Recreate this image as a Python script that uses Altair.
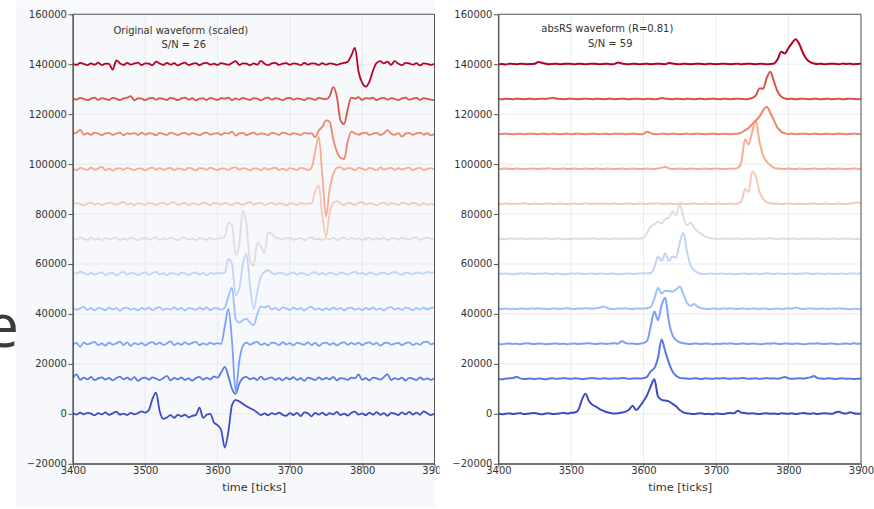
import altair as alt
import pandas as pd

# Shared sample grid (ticks) and axis tick positions
TIME = list(range(3400, 3901, 5))
X_TICKS = [3400, 3500, 3600, 3700, 3800, 3900]
Y_TICKS = list(range(-20000, 160001, 20000))
SPACING = 14000  # vertical offset between channels

# coolwarm, bottom channel (blue) to top channel (red)
COLORS = ["#3b4cc0", "#5977e3", "#7b9ff9", "#9fbfff", "#c0d4f5", "#dddddd",
          "#f2cab5", "#f7ac8e", "#ee8468", "#d75344", "#b40426"]

# Original waveforms: deviation from each channel baseline, in thousands (5-tick steps)
ORIG_0 = [
    0.2, -0.3, 0.5, -0.2, 0.4, 0.1, -0.6, 0.3, -0.2, 0.6,
    -0.4, 0.2, 0.9, -0.3, 0.1, -0.5, 0.4, -0.2, 0.3, 1.0,
    0.5, 1.5, 6.0, 8.5, 1.0, -2.0, -1.5, -0.5, -1.6, -0.4,
    -1.0, -0.3, -1.4, -0.8, -0.5, 2.5, -1.6, -0.4, 0.0, -3.5,
    -4.5, -6.5, -13.5, -7.0, 3.5, 5.5, 5.0, 4.0, 3.0, 2.2,
    1.5, 0.5, -0.5, 0.2, -0.6, 0.3, -0.2, 0.5, -0.4, -0.8,
    0.3, -0.5, 0.4, -0.9, 0.6, 0.2, -1.0, 0.4, -0.3, 0.5,
    -0.6, 0.3, -0.2, 0.8, -0.5, 0.1, -0.7, 0.4, 0.9, -0.3,
    0.2, -0.6, 0.5, -0.3, 0.7, -0.4, 0.3, -0.8, 0.4, 0.1,
    -0.5, 0.6, -0.2, 0.8, -0.3, 0.5, -0.4, 1.0, 0.2, -0.5,
    0.1]
ORIG_1 = [
    0.3, 1.8, -0.4, 0.5, -0.2, 0.8, -0.5, 0.2, 0.6, -0.3,
    0.4, -0.6, 0.3, 0.9, -0.2, 0.5, -0.4, 0.7, -0.8, 0.2,
    0.5, -0.3, 0.6, 0.1, -0.5, 0.3, 1.2, -0.6, 0.4, -0.2,
    0.6, -0.4, 0.2, -0.7, 0.3, 0.8, -0.3, 0.4, -0.2, 1.0,
    0.5, 2.5, 4.8, 1.0, -4.0, -6.0, -2.0, 0.3, 0.8, -0.2,
    0.4, -0.5, 0.9, -0.3, 0.2, 0.6, -0.4, 0.3, -0.6, 0.5,
    -0.2, 0.7, -0.4, 0.3, -0.8, 0.5, 0.1, -0.5, 0.6, -0.3,
    0.4, -0.2, 0.8, -0.6, 0.3, 0.1, -0.4, 0.5, 0.2, 1.8,
    -0.4, 0.3, -0.6, 0.5, 0.2, -0.3, 0.7, 1.9, -0.5, 0.3,
    -0.2, 0.5, -0.7, 0.4, 0.1, -0.5, 0.6, -0.3, 0.2, -0.4,
    0.3]
ORIG_2 = [
    -0.3, 0.4, -1.2, 0.6, -0.2, 0.3, 0.8, -0.5, 0.2, -0.7,
    0.5, -0.3, 0.2, 0.9, -0.4, 0.6, -0.8, 0.3, -0.2, 0.4,
    -0.6, 0.3, 0.7, -0.2, 0.5, -0.4, 0.2, 1.0, -0.5, 0.3,
    -0.3, 0.6, -0.2, 0.4, 0.8, -0.5, 0.2, -0.3, 0.5, -0.1,
    0.3, 0.0, 7.0, 14.0, 1.0, -19.0, -7.0, -0.8, 0.5, -0.3,
    0.4, 0.8, -0.4, 0.2, -0.6, 0.5, 0.3, -0.5, 0.7, -0.2,
    0.3, -0.6, 0.5, 0.1, -0.3, 0.6, -0.5, 0.4, -0.8, 0.2,
    0.5, -0.3, 0.3, -0.6, 0.2, 0.7, -0.4, 0.4, -0.2, 0.5,
    -0.5, 0.3, 0.6, -0.2, 0.4, -0.7, 0.2, 0.5, -0.3, 0.1,
    0.4, -0.5, 0.3, 0.6, -0.4, 0.2, -0.3, 0.7, 0.9, -0.2,
    0.5]
ORIG_3 = [
    0.5, -0.3, 0.2, 0.8, -0.4, 0.3, -0.6, 0.4, 0.1, -0.5,
    0.6, -0.2, 0.4, -0.7, 0.3, 0.5, -0.3, 0.2, -0.6, 0.4,
    -0.2, 0.5, -0.5, 0.3, 0.7, -0.4, 0.2, -0.3, 0.6, -0.2,
    0.4, -0.6, 0.3, 0.1, -0.4, 0.5, -0.2, 0.6, -0.5, 0.3,
    0.2, -0.3, 0.5, 5.0, 8.5, -4.0, -5.5, -4.5, -4.0, -5.5,
    -6.5, -2.0, 1.0, 0.5, 1.2, -0.3, 0.4, -0.5, 0.6, 0.2,
    -0.4, 0.5, -0.2, 0.3, -0.6, 0.4, 0.8, -0.3, 0.2, -0.5,
    0.3, -0.4, 0.6, -0.2, 0.4, -0.6, 0.3, 0.5, -0.3, 0.2,
    -0.5, 0.4, -0.2, 0.6, -0.3, 0.2, -0.6, 0.4, 0.7, -0.2,
    0.3, -0.4, 0.5, 0.2, -0.5, 0.4, -0.3, 0.6, -0.2, 0.4,
    0.6]
ORIG_4 = [
    0.6, 0.2, 0.9, 0.4, -0.3, 0.5, -0.2, 0.3, 0.7, -0.4,
    0.2, 0.5, -0.6, 0.3, 0.8, -0.2, 0.4, 0.2, -0.5, 0.3,
    0.6, -0.3, 0.4, 0.9, -0.2, 0.3, -0.5, 0.4, 0.2, -0.3,
    0.5, 0.2, -0.4, 0.3, 0.6, -0.2, 0.4, -0.5, 0.3, 0.1,
    0.4, 0.2, 0.5, 6.0, 4.0, -8.5, -6.0, 4.0, 8.0, -5.0,
    -14.0, -7.0, -1.0, 0.8, 1.5, 0.4, -0.2, 0.5, 0.3, -0.4,
    0.2, 0.6, -0.3, 0.4, 0.1, -0.5, 0.3, 0.7, -0.2, 0.4,
    -0.3, 0.5, 0.2, -0.4, 0.6, 0.3, -0.2, 0.5, 0.9, 0.1,
    0.4, -0.3, 0.6, 0.2, -0.4, 0.3, 0.5, -0.2, 0.4, 0.8,
    0.2, -0.3, 0.5, 0.3, -0.2, 0.6, 0.4, 0.1, 0.9, 0.5,
    0.7]
ORIG_5 = [
    0.3, -0.2, 0.5, 0.1, -0.4, 0.6, -0.3, 0.2, -0.5, 0.4,
    -0.2, 0.3, 0.6, -0.4, 0.2, -0.3, 0.5, 0.1, -0.6, 0.3,
    0.4, -0.3, 0.2, 0.7, -0.4, 0.3, -0.2, 0.5, 0.1, -0.5,
    0.3, 0.6, -0.3, 0.2, -0.5, 0.4, 0.1, -0.3, 0.5, -0.2,
    0.2, 0.4, 1.0, 6.5, 5.5, -6.5, -2.0, 11.5, 6.0, -9.0,
    -10.5, -1.5, -3.0, -5.5, 2.8, 2.0, 0.6, 0.2, -0.3, 0.4,
    0.5, -0.3, 0.2, 0.4, -0.5, 0.3, 0.6, -0.2, 0.1, -0.4,
    0.3, -0.2, 0.5, -0.4, 0.2, 0.6, -0.3, 0.4, -0.1, 0.3,
    -0.4, 0.2, 0.5, -0.3, 0.3, -0.2, 0.6, -0.4, 0.2, 0.4,
    -0.3, 0.5, 0.1, -0.2, 0.4, 0.7, -0.3, 0.2, 0.5, 0.1,
    0.3]
ORIG_6 = [
    -0.2, 0.4, 0.1, -0.5, 0.3, 0.6, -0.2, 0.3, -0.4, 0.2,
    0.5, 0.2, -0.3, 0.4, 0.9, -0.2, 0.3, -0.5, 0.4, 0.1,
    -0.3, 0.5, 0.2, -0.4, 0.3, 0.6, -0.2, 0.4, 0.8, -0.3,
    0.2, 0.5, -0.4, 0.3, 0.1, -0.3, 0.6, 0.2, -0.5, 0.4,
    0.3, -0.2, 0.5, 0.1, -0.4, 0.6, 0.2, -0.3, 0.4, 0.8,
    -0.2, 0.3, 0.5, -0.4, 0.2, 0.6, -0.3, 0.4, 0.1, -0.5,
    0.3, 0.2, -0.4, 0.5, 0.1, 0.3, 0.2, 5.0, 7.5, -5.0,
    -13.0, -3.5, 0.5, 1.2, 0.3, -0.4, 0.6, 0.2, -0.3, 0.5,
    0.8, -0.2, 0.4, 0.1, -0.5, 0.3, 0.6, -0.3, 0.4, 0.2,
    -0.4, 0.5, 0.3, -0.2, 0.6, 0.1, -0.5, 0.4, -0.3, 0.2,
    -0.5]
ORIG_7 = [
    0.2, -0.4, 0.5, 0.1, -0.3, 0.6, -0.2, 0.3, 0.9, -0.4,
    0.3, -0.6, 0.2, 0.4, -0.3, 0.5, 0.1, -0.4, 0.3, 0.2,
    -0.5, 0.3, 0.6, -0.2, 0.4, -0.3, 0.2, 0.5, -0.4, 0.3,
    0.1, -0.3, 0.5, 0.2, -0.5, 0.4, 0.3, -0.2, 0.6, 0.1,
    -0.4, 0.3, 0.2, -0.3, 0.5, 0.7, -0.2, 0.4, 0.1, -0.5,
    0.3, 0.2, -0.4, 0.5, -0.2, 0.3, 0.6, -0.3, 0.2, -0.4,
    0.4, 0.1, -0.3, 0.5, 0.2, -0.4, 0.5, 7.0, 13.0, -3.0,
    -19.0, -8.0, -2.0, 0.5, 0.8, -0.2, 0.4, 0.3, -0.5, 0.6,
    0.2, -0.3, 0.5, 0.1, -0.4, 0.7, -0.2, 0.3, 0.5, -0.3,
    0.4, -0.2, 0.3, 0.6, -0.4, 0.2, 0.5, -0.3, 0.1, 0.4,
    -0.2]
ORIG_8 = [
    0.3, 0.5, 1.8, -0.2, 0.4, -0.3, 0.6, 0.2, -0.4, 0.3,
    0.5, -0.3, 0.2, 0.6, -0.5, 0.3, 0.1, 0.4, -0.3, 0.6,
    -0.2, 0.4, 0.2, -0.4, 0.5, 0.1, -0.3, 0.6, 0.2, -0.4,
    0.3, 0.5, -0.2, 0.4, 0.1, -0.5, 0.3, 0.6, -0.2, 0.2,
    0.4, -0.3, 0.5, 0.2, 1.0, -0.6, 0.3, 0.5, -0.4, 0.2,
    0.6, -0.2, 0.3, 0.1, -0.4, 0.5, 0.2, -0.3, 0.6, 0.3,
    -0.2, 0.4, 0.1, -0.3, 0.5, 0.2, 0.3, -1.2, 1.5, 3.0,
    5.5, 5.0, -2.0, -7.0, -9.5, -10.0, -3.0, 1.0, 0.3, -0.2,
    0.4, 0.6, -0.3, 0.2, 0.5, -0.4, 0.3, 1.6, 0.2, -0.3,
    0.4, -1.0, 0.2, 0.5, -0.3, 0.3, 0.6, -0.2, 0.4, -0.5,
    0.2]
ORIG_9 = [
    0.3, -0.2, 0.5, 0.1, -0.4, 0.2, 0.6, -0.3, 0.4, 0.1,
    -0.3, 0.5, 0.2, -0.4, 0.3, 0.6, 1.2, -0.5, 0.3, 0.2,
    -0.4, 0.3, 0.5, -0.2, 0.4, 0.1, -0.3, 0.5, 0.2, -0.4,
    0.3, 0.6, -0.2, 0.4, -0.5, 0.2, 0.3, -0.3, 0.5, 0.1,
    -0.3, 0.4, 0.2, 0.6, -0.4, 0.3, -0.2, 0.5, 0.1, -0.3,
    0.4, 0.2, -0.5, 0.3, 0.6, -0.2, 0.4, 0.1, -0.4, 0.3,
    0.5, -0.2, 0.3, 0.1, -0.4, 0.4, 0.2, -0.3, 0.5, 0.2,
    0.0, 1.2, 4.8, 1.0, -8.5, -10.0, -4.0, 0.6, 0.2, 0.8,
    -0.3, 0.4, 0.2, 0.6, -0.4, 0.3, 0.5, -0.2, 0.4, 0.1,
    -0.4, 0.3, 0.6, -0.2, 0.2, 0.5, -0.3, 0.4, 0.1, -0.2,
    -0.3]
ORIG_10 = [
    0.2, -0.3, 0.5, 0.1, -0.4, 0.3, -0.2, 0.6, -0.3, 0.2,
    0.1, -2.2, 1.5, 0.4, -0.3, 0.5, -0.2, 0.3, 0.6, -0.4,
    0.3, 0.2, -0.4, 1.0, 0.3, -0.3, 0.5, -0.2, 0.4, -0.5,
    0.2, 0.6, -0.3, 0.1, 0.4, -0.4, 0.3, 0.5, -0.2, 0.2,
    -0.3, 0.4, 0.1, -0.2, 0.5, 1.2, -0.3, 0.3, 0.2, -0.4,
    0.3, -0.2, 1.3, 0.2, -0.4, 0.3, 0.5, -0.3, 0.2, 0.4,
    -0.2, 0.3, 0.1, -0.4, 0.5, -0.2, 0.3, 0.2, -0.3, 0.4,
    -0.2, 0.3, 0.1, -0.3, 0.2, 0.5, 1.0, 3.5, 6.5, -3.0,
    -7.5, -9.0, -7.0, -2.5, 0.5, 1.2, 0.3, 1.0, -0.3, 1.2,
    0.2, -0.4, 0.5, 0.3, -0.2, 0.4, -0.5, 0.3, 0.1, -0.3,
    0.2]

# absRS waveforms: deviation from each channel baseline, in thousands (5-tick steps)
ABSRS_0 = [
    0.1, -0.2, 0.0, 0.2, -0.1, 0.1, 0.3, -0.1, 0.0, 0.2,
    0.3, 0.0, -0.2, 0.1, 0.2, -0.1, 0.0, 0.2, 0.4, 0.1,
    0.4, 0.5, 1.5, 5.5, 8.0, 5.0, 3.5, 2.8, 1.8, 1.2,
    0.6, 0.3, 0.1, 0.2, 0.5, 0.9, 1.6, 3.2, 1.5, 3.0,
    5.0, 7.5, 11.0, 13.8, 7.0, 5.6, 5.3, 5.0, 4.0, 3.0,
    1.5, 0.6, 0.2, 0.0, -0.1, 0.1, 0.2, -0.1, 0.0, -0.2,
    0.1, 0.0, -0.1, 0.2, 0.3, 0.2, 1.2, 0.5, 0.3, 0.1,
    0.2, 0.0, -0.1, 0.1, 0.2, 0.0, 0.1, -0.1, 0.2, 0.1,
    0.0, 0.2, -0.1, 0.1, 0.3, 0.1, 0.0, 0.2, -0.1, 0.1,
    0.2, 0.1, 0.0, 0.6, 0.8, 0.2, 0.1, 0.6, 0.2, 0.0,
    0.1]
ABSRS_1 = [
    0.0, -0.2, 0.1, 0.2, 0.3, 0.8, 0.2, -0.1, 0.0, 0.1,
    -0.1, 0.1, 0.0, -0.2, 0.1, 0.2, 0.0, 0.1, 0.3, 0.1,
    0.0, 0.2, 0.1, -0.1, 0.0, 0.2, 0.3, 0.1, 0.0, 0.2,
    0.1, 0.0, 0.2, 0.1, 0.3, 0.2, 0.0, 0.1, 0.2, 0.1,
    0.3, 0.8, 3.0, 4.3, 8.5, 15.8, 11.0, 6.5, 3.0, 1.2,
    0.4, 0.2, 0.1, 0.0, 0.2, 0.1, -0.1, 0.2, 0.1, 0.0,
    0.2, 0.1, 0.3, 0.1, 0.0, 0.2, 0.1, 0.3, 0.2, 0.0,
    0.1, 0.2, 0.0, 0.1, 0.3, 0.1, 0.2, 0.0, 0.4, 0.7,
    0.2, 0.0, 0.1, 0.2, 0.1, 0.3, 0.6, 1.1, 0.3, 0.1,
    0.0, 0.2, 0.1, -0.1, 0.1, 0.2, 0.0, 0.1, -0.1, 0.0,
    0.1]
ABSRS_2 = [
    0.0, -0.1, 0.1, 0.2, 0.0, 0.1, -0.1, 0.2, 0.3, 0.1,
    0.0, 0.2, 0.1, -0.1, 0.0, 0.1, 0.2, 0.0, 0.1, -0.1,
    0.1, 0.2, 0.0, 0.1, 0.2, 0.3, 0.1, 0.0, 0.2, 0.1,
    0.0, 0.2, 0.3, 0.1, 1.2, 0.4, 0.1, 0.2, 0.0, 0.1,
    0.3, 1.2, 7.0, 13.0, 9.5, 15.5, 18.5, 9.0, 3.5, 1.5,
    0.6, 0.3, 0.1, 0.0, 0.2, 0.1, 0.0, 0.2, 0.1, -0.1,
    0.1, 0.0, 0.2, 0.1, 0.3, 0.1, 0.0, 0.2, 0.1, 0.0,
    0.2, 0.1, -0.1, 0.0, 0.2, 0.1, 0.3, 0.1, 0.0, 0.2,
    0.1, 0.0, 0.2, 0.1, -0.1, 0.0, 0.2, 0.1, 0.3, 0.1,
    0.0, 0.1, 0.2, 0.0, -0.1, 0.1, 0.2, 0.0, 0.3, 0.1,
    0.2]
ABSRS_3 = [
    0.1, 0.0, 0.2, -0.1, 0.1, 0.0, 0.2, 0.1, 0.0, 0.2,
    0.1, 0.3, 0.0, 0.1, -0.1, 0.2, 0.1, 0.0, 0.2, 0.3,
    0.1, 0.0, 0.2, 0.1, 0.3, 0.2, 0.1, 0.3, 0.6, 1.0,
    0.4, 0.1, 0.0, 0.2, 0.1, 0.3, 0.1, 0.0, 0.2, 0.1,
    0.2, 0.3, 0.8, 4.0, 8.5, 6.2, 7.3, 7.2, 7.0, 7.8,
    9.0, 6.0, 2.5, 1.3, 2.0, 0.8, 0.3, 0.1, 0.0, 0.2,
    0.1, 0.0, 0.2, 0.1, 0.3, 0.1, 0.0, 0.2, 0.1, 0.0,
    0.2, 0.1, 0.0, 0.2, 0.1, -0.1, 0.1, 0.2, 0.0, 0.1,
    0.3, 0.1, 0.6, 0.2, 0.0, 0.1, 0.2, 0.1, 0.0, 0.2,
    0.1, 0.0, 0.2, 0.1, 0.3, 0.1, 0.0, -0.1, 0.1, 0.0,
    0.1]
ABSRS_4 = [
    0.0, 0.1, 0.2, 0.0, -0.1, 0.1, 0.2, 0.1, 0.3, 0.1,
    0.0, 0.2, 0.1, 0.3, 0.1, 0.0, 0.2, 0.1, -0.1, 0.0,
    0.2, 0.1, 0.3, 0.1, 0.0, 0.2, 0.1, 0.0, 0.2, 0.1,
    0.0, 0.2, 0.1, -0.1, 0.0, 0.1, 0.2, 0.0, 0.1, 0.2,
    0.3, 0.2, 0.4, 2.5, 7.0, 5.2, 8.3, 5.2, 7.0, 6.5,
    12.5, 16.5, 9.0, 3.5, 1.5, 0.5, 0.1, 0.0, 0.2, 0.1,
    0.0, 0.1, 0.2, 0.0, 0.1, -0.1, 0.0, 0.1, 0.2, 0.0,
    0.1, 0.2, 0.0, 0.1, 0.3, 0.1, 0.0, 0.2, 0.1, 0.0,
    0.2, 0.1, 0.0, 0.2, 0.1, 0.3, 0.1, 0.0, 0.2, 0.1,
    0.0, 0.2, 0.1, 0.0, 0.1, 0.2, 0.0, 0.3, 0.2, 0.1,
    0.4]
ABSRS_5 = [
    0.0, 0.1, -0.1, 0.2, 0.1, 0.0, 0.2, 0.1, 0.0, 0.1,
    0.2, 0.0, 0.1, 0.3, 0.1, 0.0, 0.2, 0.1, -0.1, 0.1,
    0.0, 0.2, 0.1, 0.0, 0.2, 0.1, 0.3, 0.1, 0.0, 0.2,
    0.1, 0.0, 0.2, 0.1, 0.0, 0.2, 0.1, 0.3, 0.1, 0.2,
    0.4, 2.5, 5.0, 5.8, 7.0, 6.2, 8.0, 8.5, 11.0, 9.5,
    14.0, 9.0, 5.5, 6.5, 4.5, 3.0, 2.0, 1.0, 0.5, 0.2,
    0.1, 0.0, 0.2, 0.1, 0.0, 0.1, 0.2, 0.0, 0.1, 0.2,
    0.0, 0.1, 0.2, 0.0, 0.1, 0.3, 0.1, 0.0, 0.2, 0.1,
    0.0, 0.2, 0.1, 0.0, 0.1, 0.2, 0.0, 0.1, 0.2, 0.0,
    0.1, 0.0, 0.2, 0.1, 0.0, 0.1, 0.2, 0.1, 0.0, 0.1,
    0.0]
ABSRS_6 = [
    0.1, 0.0, 0.2, 0.1, 0.0, 0.2, 0.1, 0.3, 0.1, 0.0,
    0.2, 0.1, 0.0, 0.1, 0.2, 0.0, 0.1, 0.2, 0.1, 0.0,
    0.1, 0.2, 0.0, 0.1, 0.3, 0.1, 0.0, 0.2, 0.1, 0.2,
    0.0, 0.1, 0.2, 0.1, 0.0, 0.1, 0.2, 0.0, 0.1, 0.2,
    0.1, 0.0, 0.2, 0.1, 0.3, 0.1, 0.0, 0.2, 0.1, 0.0,
    0.2, 0.1, 0.0, 0.1, 0.2, 0.1, 0.0, 0.2, 0.1, 0.0,
    0.1, 0.2, 0.0, 0.1, 0.2, 0.0, 0.2, 1.0, 6.0, 4.8,
    13.0, 11.0, 5.0, 2.0, 0.8, 0.3, 0.1, 0.2, 0.0, 0.1,
    0.2, 0.1, 0.0, 0.2, 0.1, 0.0, 0.1, 0.2, 0.0, 0.1,
    0.2, 0.1, 0.0, 0.1, 0.2, 0.1, 0.0, 0.2, 0.4, 0.6,
    0.3]
ABSRS_7 = [
    0.0, 0.1, 0.2, 0.1, 0.0, 0.2, 0.1, 0.0, 0.1, 0.2,
    0.1, 0.0, 0.2, 0.1, 0.3, 0.1, 0.0, 0.1, 0.2, 0.0,
    0.1, 0.2, 0.0, 0.1, 0.2, 0.1, 0.0, 0.2, 0.1, 0.0,
    0.2, 0.1, 0.0, 0.1, 0.2, 0.0, 0.1, 0.2, 0.1, 0.0,
    0.1, 0.2, 0.1, 0.0, 0.3, 0.5, 0.9, 0.3, 0.0, 0.1,
    0.2, 0.1, 0.0, 0.2, 0.1, 0.0, 0.1, 0.2, 0.0, 0.1,
    0.2, 0.1, 0.0, 0.1, 0.2, 0.1, 0.5, 3.0, 12.0, 9.8,
    15.0, 19.5, 11.0, 5.5, 3.0, 1.5, 0.5, 0.2, 0.1, 0.0,
    0.2, 0.1, 0.0, 0.2, 0.1, 0.0, 0.1, 0.2, 0.1, 0.0,
    0.1, 0.2, 0.0, 0.1, 0.2, 0.1, 0.0, 0.1, 0.2, 0.1,
    0.0]
ABSRS_8 = [
    0.0, 0.1, 0.2, 0.1, 0.0, 0.1, 0.2, 0.0, 0.1, 0.2,
    0.1, 0.0, 0.2, 0.1, 0.0, 0.2, 0.1, 0.0, 0.1, 0.2,
    0.0, 0.1, 0.2, 0.1, 0.0, 0.1, 0.2, 0.1, 0.0, 0.2,
    0.1, 0.0, 0.2, 0.1, 0.2, 0.0, 0.1, 0.2, 0.1, 0.0,
    0.1, 1.0, 0.4, 0.1, 0.0, 0.2, 0.1, 0.0, 0.2, 0.1,
    0.0, 0.1, 0.2, 0.0, 0.1, 0.2, 0.1, 0.0, 0.1, 0.2,
    0.1, 0.0, 0.2, 0.1, 0.0, 0.1, 0.2, 0.6, 1.5, 2.5,
    4.0, 5.5, 7.0, 9.5, 11.0, 8.5, 5.5, 2.5, 1.0, 0.3,
    0.1, 0.2, 0.0, 0.1, 0.2, 0.1, 0.0, 0.2, 0.1, 0.0,
    0.1, 0.2, 0.0, 0.1, 0.2, 0.1, 0.0, 0.1, 0.2, 0.1,
    0.0]
ABSRS_9 = [
    0.1, 0.0, 0.2, 0.1, 0.0, 0.2, 0.1, 0.0, 0.1, 0.2,
    0.0, 0.1, 0.2, 0.1, 0.3, 0.6, 0.2, 0.1, 0.0, 0.1,
    0.2, 0.1, 0.0, 0.1, 0.2, 0.1, 0.0, 0.2, 0.1, 0.0,
    0.1, 0.2, 0.0, 0.1, 0.2, 0.1, 0.0, 0.1, 0.2, 0.1,
    0.0, 0.2, 0.1, 0.0, 0.1, 0.5, 0.2, 0.1, 0.0, 0.2,
    0.1, 0.0, 0.2, 0.1, 0.0, 0.1, 0.2, 0.0, 0.1, 0.2,
    0.1, 0.0, 0.2, 0.1, 0.0, 0.1, 0.2, 0.1, 0.0, 0.1,
    0.5, 1.5, 4.3, 4.2, 8.5, 11.0, 7.0, 3.0, 1.0, 0.3,
    0.1, 0.2, 0.0, 0.1, 0.2, 0.1, 0.0, 0.2, 0.1, 0.0,
    0.1, 0.2, 0.0, 0.1, 0.2, 0.0, 0.1, 0.2, 0.1, 0.0,
    0.1]
ABSRS_10 = [
    0.0, 0.1, -0.1, 0.2, 0.1, 0.0, 0.2, 0.1, 0.0, 0.1,
    0.2, 0.9, 0.6, 0.2, 0.0, 0.1, 0.2, 0.0, 0.1, 0.2,
    0.1, 0.0, 0.2, 0.1, 0.0, 0.1, 0.2, 0.1, 0.0, 0.1,
    0.2, 0.0, 0.1, 0.7, 0.3, 0.1, 0.0, 0.2, 0.1, 0.0,
    0.1, 0.2, 0.0, 0.1, 0.2, 0.1, 0.0, 0.5, 0.3, 0.1,
    0.0, 0.2, 0.1, 0.0, 0.1, 0.2, 0.1, 0.0, 0.2, 0.1,
    0.0, 0.1, 0.2, 0.1, 0.0, 0.1, 0.2, 0.0, 0.1, 0.2,
    0.1, 0.0, 0.2, 0.1, 0.0, 0.1, 0.3, 2.0, 5.0, 4.3,
    6.5, 8.5, 10.0, 8.0, 4.5, 2.0, 0.8, 0.3, 0.1, 0.2,
    0.0, 0.1, 0.2, 0.1, 0.0, 0.3, 0.1, 0.2, 0.0, 0.1,
    0.2]

ORIGINAL = [ORIG_0, ORIG_1, ORIG_2, ORIG_3, ORIG_4, ORIG_5,
            ORIG_6, ORIG_7, ORIG_8, ORIG_9, ORIG_10]
ABSRS = [ABSRS_0, ABSRS_1, ABSRS_2, ABSRS_3, ABSRS_4, ABSRS_5,
         ABSRS_6, ABSRS_7, ABSRS_8, ABSRS_9, ABSRS_10]

FONT = "DejaVu Sans"
INK = "#333333"
FRAME = "#555555"
GRID = "#e3e6eb"
TINT = "#f6f8fb"
PLOT_H = 450


def traces_frame(traces):
    rows = []
    for k, dev in enumerate(traces):
        for t, d in zip(TIME, dev):
            rows.append({"time": t, "trace": k, "value": k * SPACING + d * 1000})
    return pd.DataFrame(rows)


def one_row():
    return pd.DataFrame({"n": [0]})


def x_enc():
    return alt.X("time:Q",
                 scale=alt.Scale(domain=[3400, 3900], nice=False, zero=False),
                 axis=alt.Axis(values=X_TICKS, format="d", title="time [ticks]",
                               grid=False, tickSize=3.5, labelPadding=-1.5,
                               labelFlush=False, labelOverlap=False,
                               titlePadding=6, zindex=1))


def y_enc():
    return alt.Y("value:Q",
                 scale=alt.Scale(domain=[-20000, 160000], nice=False, zero=False),
                 axis=alt.Axis(values=Y_TICKS, format="d", title=None, grid=False,
                               tickSize=5, labelPadding=1.5, labelFlush=False,
                               labelOverlap=False, zindex=1))


def panel(traces, width, line_width, heading, sn_text, head_xy, sn_xy, backdrop):
    grid_x = alt.Chart(pd.DataFrame({"time": X_TICKS})).mark_rule(
        color=GRID, strokeWidth=0.8).encode(x=x_enc())
    grid_y = alt.Chart(pd.DataFrame({"value": Y_TICKS})).mark_rule(
        color=GRID, strokeWidth=0.8).encode(y=y_enc())
    lines = alt.Chart(traces_frame(traces)).mark_line(
        strokeWidth=line_width, interpolate="monotone", clip=True,
        strokeJoin="round").encode(
        x=x_enc(), y=y_enc(),
        color=alt.Color("trace:N", scale=alt.Scale(domain=list(range(11)), range=COLORS),
                        legend=None))
    frame = alt.Chart(one_row()).mark_rect(
        filled=False, stroke=FRAME, strokeWidth=1).encode(
        x=alt.value(0), x2=alt.value(width), y=alt.value(0), y2=alt.value(PLOT_H))
    head = alt.Chart(one_row()).mark_text(
        font=FONT, fontSize=10, color=INK, align="center", baseline="middle").encode(
        x=alt.value(head_xy[0]), y=alt.value(head_xy[1]), text=alt.value(heading))
    sn = alt.Chart(one_row()).mark_text(
        font=FONT, fontSize=10, color=INK, align="center", baseline="middle").encode(
        x=alt.value(sn_xy[0]), y=alt.value(sn_xy[1]), text=alt.value(sn_text))
    return alt.layer(backdrop, grid_x, grid_y, lines, frame, head, sn).properties(
        width=width, height=PLOT_H)


# light backdrop behind the left figure
left_backdrop = alt.Chart(one_row()).mark_rect(color=TINT).encode(
    x=alt.value(-57), x2=alt.value(362), y=alt.value(-14), y2=alt.value(494))
# white edge of the right figure, trimming the left figure's last tick label
right_backdrop = alt.Chart(one_row()).mark_rect(color="white").encode(
    x=alt.value(-59), x2=alt.value(-40), y=alt.value(451), y2=alt.value(480))

left = panel(ORIGINAL, 362, 1.8, "Original waveform (scaled)", "S/N = 26",
             (108, 17), (111, 31), left_backdrop)
right = panel(ABSRS, 363, 2.0, "absRS waveform (R=0.81)", "S/N = 59",
              (109, 15), (112, 30), right_backdrop)

# partial letter at the left edge
letter = alt.Chart(pd.DataFrame({"label": ["e"]})).mark_text(
    font="Open Sans", fontSize=60, color="#3a3a3a",
    align="right", baseline="alphabetic", clip=True).encode(
    x=alt.value(19), y=alt.value(333), text="label:N").properties(width=17, height=PLOT_H)

panels = alt.hconcat(left, right, spacing=64, bounds="flush")
chart = alt.hconcat(letter, panels, spacing=56, bounds="flush").properties(
    padding=0, background="white"
).configure_view(stroke=None).configure_axis(
    domainColor=FRAME, tickColor=FRAME, labelColor=INK, labelFont=FONT,
    labelFontSize=10, titleFont=FONT, titleFontSize=11.3, titleFontWeight="normal",
    titleColor=INK, domainWidth=1, tickWidth=1)

chart.save("out.html", embed_options={"renderer": "svg", "actions": False})
